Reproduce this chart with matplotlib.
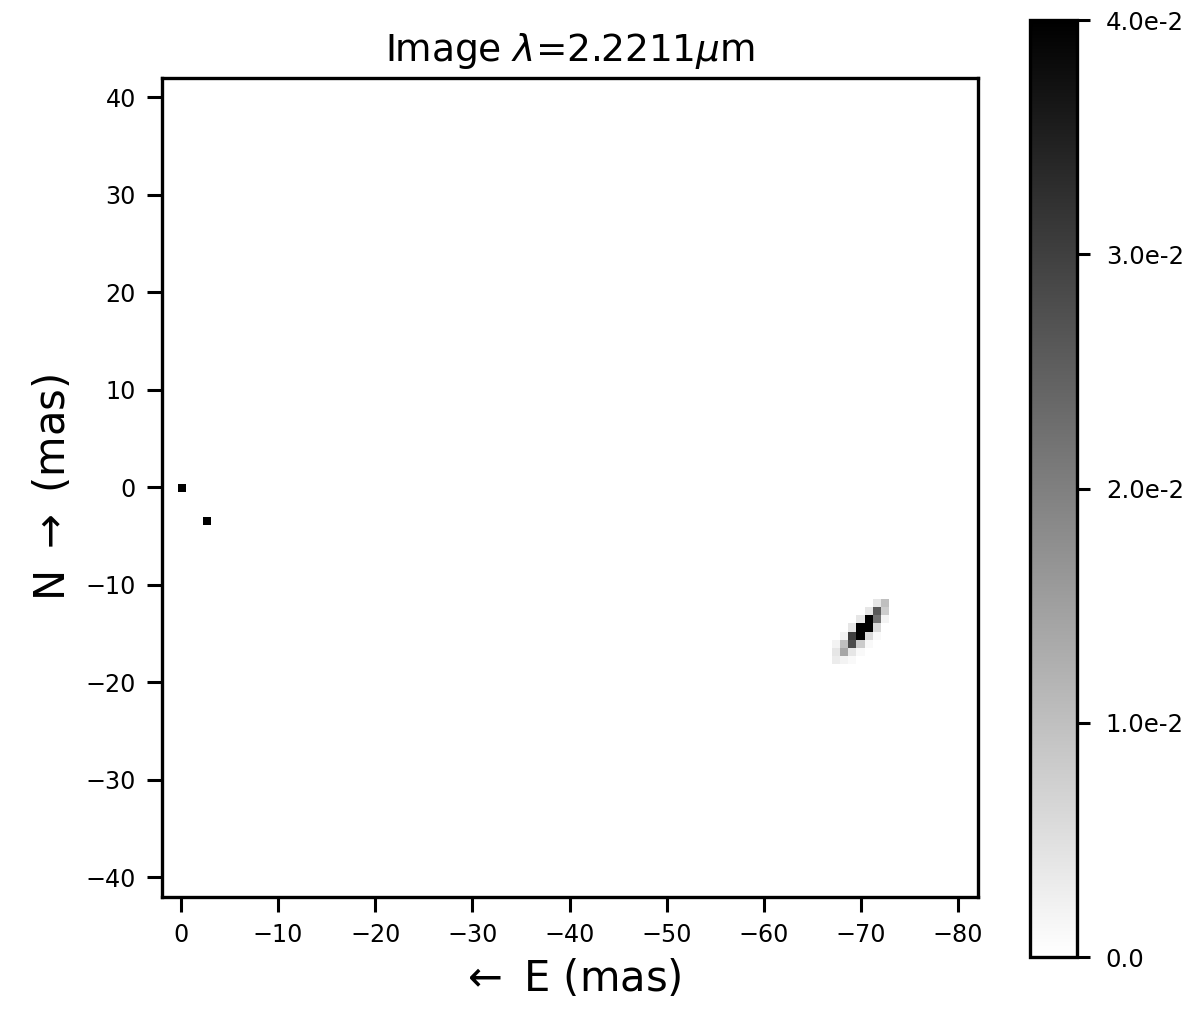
import numpy as np
import matplotlib
matplotlib.use("Agg")
import matplotlib.pyplot as plt

# image grid (mas)
pix = 0.84
npix = 100
x_left = 1.95
y_top = 42.3

# two point sources near the centre
point_x = [0.0, -2.5]
point_y = [0.0, -3.4]
point_flux = [0.05, 0.05]

# extended source: cut-out of pixel values, top-left pixel centre at (blob_x, blob_y)
blob_x = -67.76
blob_y = -12.28
blob_stamp = [
    [0.000, 0.000, 0.000, 0.000, 0.000, 0.004, 0.010],
    [0.000, 0.000, 0.000, 0.000, 0.004, 0.026, 0.008],
    [0.000, 0.000, 0.000, 0.004, 0.040, 0.022, 0.002],
    [0.000, 0.000, 0.004, 0.040, 0.040, 0.006, 0.000],
    [0.000, 0.002, 0.030, 0.040, 0.006, 0.001, 0.000],
    [0.002, 0.010, 0.028, 0.008, 0.001, 0.000, 0.000],
    [0.004, 0.014, 0.004, 0.001, 0.000, 0.000, 0.000],
    [0.003, 0.002, 0.001, 0.000, 0.000, 0.000, 0.000],
]

cbar_ticks = [0.0, 0.01, 0.02, 0.03, 0.04]
cbar_labels = ["0.0", "1.0e-2", "2.0e-2", "3.0e-2", "4.0e-2"]
xticks = [0, -10, -20, -30, -40, -50, -60, -70, -80]
yticks = [-40, -30, -20, -10, 0, 10, 20, 30, 40]

img = np.zeros((npix, npix))
for x, y, f in zip(point_x, point_y, point_flux):
    k = int((x_left - x) / pix)
    j = int((y_top - y) / pix)
    img[j, k] += f

stamp = np.array(blob_stamp)
k0 = int(round((x_left - blob_x) / pix - 0.5))
j0 = int(round((y_top - blob_y) / pix - 0.5))
img[j0:j0 + stamp.shape[0], k0:k0 + stamp.shape[1]] += stamp

extent = [x_left, x_left - npix * pix, y_top - npix * pix, y_top]

plt.rcParams["axes.linewidth"] = 1.2
fig = plt.figure(figsize=(6, 5.07), dpi=200)
ax = fig.add_axes([0.135, 0.1154, 0.68, 0.8077])
im = ax.imshow(img, cmap="gray_r", vmin=0, vmax=0.04, extent=extent,
               origin="upper", interpolation="nearest", aspect="auto")
ax.set_xlim(1.95, -82.05)
ax.set_ylim(-42, 42)
ax.set_xticks(xticks)
ax.set_yticks(yticks)
ax.tick_params(labelsize=8.6, length=5.4, width=1.1, pad=4)
ax.set_title("Image $\\lambda$=2.2211$\\mu$m", fontsize=13.5)
ax.set_xlabel("$\\leftarrow$ E (mas)", fontsize=15)
ax.set_ylabel("N $\\rightarrow$ (mas)", fontsize=15)

cax = fig.add_axes([0.858, 0.0562, 0.0392, 0.924])
cb = fig.colorbar(im, cax=cax)
cb.set_ticks(cbar_ticks)
cb.set_ticklabels(cbar_labels)
cb.outline.set_linewidth(1.2)
cax.tick_params(labelsize=8.8, length=4.5, width=1.1, pad=6)

fig.savefig("out.png", dpi=200)
